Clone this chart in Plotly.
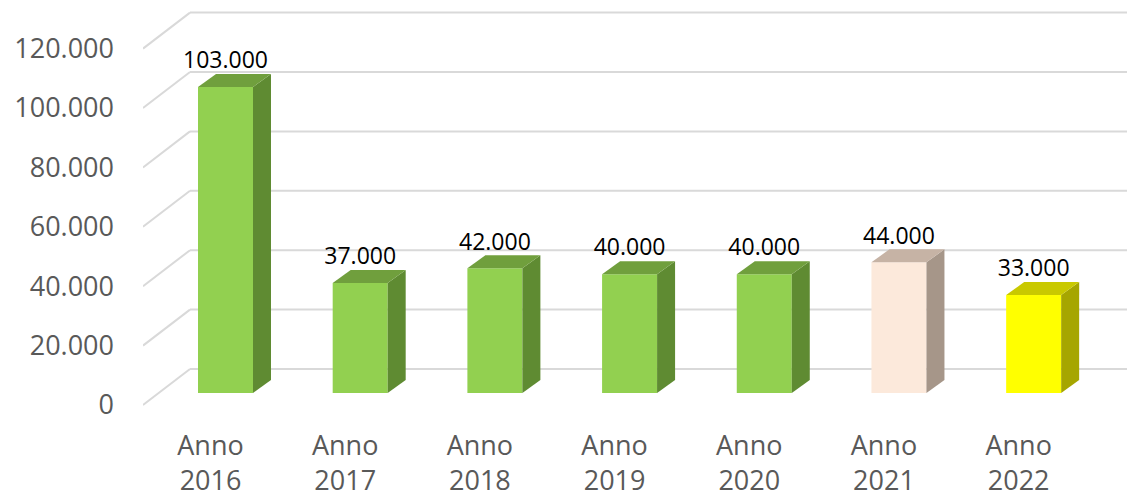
import plotly.graph_objects as go

# ---------------- data ----------------
categories = ["Anno 2016", "Anno 2017", "Anno 2018", "Anno 2019",
              "Anno 2020", "Anno 2021", "Anno 2022"]
values = [103000, 37000, 42000, 40000, 40000, 44000, 33000]
front_colors = ["#92D050"] * 5 + ["#FCE9DB", "#FFFF00"]
side_colors = ["#5F8B32"] * 5 + ["#A69689", "#A6A600"]
top_colors = ["#709F3D"] * 5 + ["#C6B3A5", "#C9C900"]
y_ticks = [0, 20000, 40000, 60000, 80000, 100000, 120000]


def fmt(v):
    return f"{v:,}".replace(",", ".")


y_tick_labels = [fmt(v) for v in y_ticks]
bar_labels = [fmt(v) for v in values]
cat_line1 = [c.split(" ")[0] for c in categories]
cat_line2 = [c.split(" ")[1] for c in categories]
positions = list(range(len(values)))

# ---------------- geometry (style) ----------------
W, H = 1127, 498
ML, MR, MT, MB = 143, 0, 0, 88
BASE_PX = 393            # pixel row of the bar-front baseline
X0, X1 = -0.6125, 6.693
plot_w = W - ML - MR
plot_h = H - MT - MB
xpx = plot_w / (X1 - X0)          # pixels per category
ypx = 2.97 / 1000                 # pixels per unit
Y0 = -(plot_h - (BASE_PX - MT)) / ypx
Y1 = (BASE_PX - MT) / ypx


def dxu(px):
    return px / xpx


def dyu(px):
    return px / ypx


FRONT = dyu(-12)
BACK = dyu(24)
DIAG = dxu(47)
BAR_W = dxu(55)
SIDE_DX = dxu(18)
SIDE_DY = dyu(13)

fig = go.Figure()

# perspective gridlines (behind everything)
for v in y_ticks:
    fig.add_shape(type="line", xref="x", yref="y", layer="below",
                  x0=X0, y0=v + FRONT, x1=X0 + DIAG, y1=v + BACK,
                  line=dict(color="#D9D9D9", width=2))
    fig.add_shape(type="line", xref="x", yref="y", layer="below",
                  x0=X0 + DIAG, y0=v + BACK, x1=X1, y1=v + BACK,
                  line=dict(color="#D9D9D9", width=2))

# front faces
fig.add_trace(go.Bar(
    x=positions, y=values, width=BAR_W,
    marker=dict(color=front_colors, line=dict(width=0)),
    showlegend=False, hoverinfo="skip"))

# side and top faces
for i, v in enumerate(values):
    xl = i - BAR_W / 2
    xr = i + BAR_W / 2
    fig.add_trace(go.Scatter(
        x=[xr, xr + SIDE_DX, xr + SIDE_DX, xr, xr],
        y=[0, SIDE_DY, v + SIDE_DY, v, 0],
        mode="lines", fill="toself", fillcolor=side_colors[i],
        line=dict(width=0, color=side_colors[i]),
        hoverinfo="skip", showlegend=False))
    fig.add_trace(go.Scatter(
        x=[xl, xr, xr + SIDE_DX, xl + SIDE_DX, xl],
        y=[v, v, v + SIDE_DY, v + SIDE_DY, v],
        mode="lines", fill="toself", fillcolor=top_colors[i],
        line=dict(width=0, color=top_colors[i]),
        hoverinfo="skip", showlegend=False))

# data labels
fig.add_trace(go.Scatter(
    x=positions, y=[v + SIDE_DY for v in values],
    mode="text", text=bar_labels, textposition="top center",
    textfont=dict(family="Open Sans", size=23, color="#000000"),
    hoverinfo="skip", showlegend=False))

# invisible trace holding the second x axis (year line of the labels)
fig.add_trace(go.Scatter(x=positions, y=[0] * len(positions), xaxis="x2",
                         mode="markers", marker=dict(opacity=0),
                         hoverinfo="skip", showlegend=False))

tick_font = dict(family="Open Sans", size=27, color="#595959")
fig.update_layout(
    width=W, height=H,
    margin=dict(l=ML, r=MR, t=MT, b=MB, autoexpand=False),
    plot_bgcolor="white", paper_bgcolor="white",
    showlegend=False,
    font=dict(family="Open Sans", color="#595959", size=27),
    xaxis=dict(range=[X0, X1], showgrid=False, zeroline=False, showline=False,
               automargin=False,
               tickmode="array", tickvals=positions,
               ticktext=cat_line1, ticks="", ticklabelshift=-15,
               ticklabelstandoff=17, tickfont=tick_font),
    xaxis2=dict(range=[X0, X1], overlaying="x", anchor="y", side="bottom",
                showgrid=False, zeroline=False, showline=False,
                automargin=False,
                tickmode="array", tickvals=positions,
                ticktext=cat_line2, ticks="", ticklabelshift=-15,
                ticklabelstandoff=52, tickfont=tick_font),
    yaxis=dict(range=[Y0, Y1], showgrid=False, zeroline=False, showline=False,
               automargin=False,
               tickmode="array", tickvals=[v + FRONT for v in y_ticks],
               ticktext=y_tick_labels, ticks="", ticklabelstandoff=28,
               tickfont=tick_font),
)

fig.write_html("out.html",
               config={"displayModeBar": False},
               post_script="document.body.style.margin='0';"
                           "document.body.style.overflow='hidden';")
